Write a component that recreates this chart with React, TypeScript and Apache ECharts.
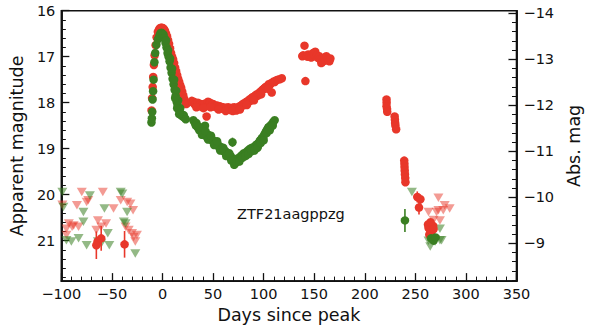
import React, { useEffect, useRef } from "react";
import * as echarts from "echarts";

// ---------- data (days since peak, apparent magnitude, optional error) ----------
const redDetections: number[][] = [
  [-65.4, 21.1, 0.3], [-64.2, 21.02], [-60.6, 20.95, 0.27], [-37.5, 21.08, 0.29],
  [-10.8, 18.17], [-10.3, 17.9], [-9.7, 17.66], [-9.2, 17.44], [-8.5, 17.18], [-7.8, 16.97],
  [-6.8, 16.75], [-5.8, 16.58], [-4.6, 16.46], [-3.5, 16.41], [-2.5, 16.38], [-1.5, 16.37],
  [-0.5, 16.37], [0.5, 16.38], [1.5, 16.4], [2.5, 16.44], [3.5, 16.5], [4.5, 16.56],
  [5.5, 16.64], [6.5, 16.72], [7.5, 16.82], [8.5, 16.92], [9.5, 17.0], [10.5, 17.06],
  [11.5, 17.14], [12.5, 17.24], [13.5, 17.32], [14.5, 17.4], [15.5, 17.48], [16.5, 17.55],
  [17.5, 17.62], [18.5, 17.68], [19.5, 17.76], [20.5, 17.84], [21.5, 17.92], [22.5, 17.98],
  [23.5, 18.03], [29, 17.96], [30, 18.0], [31, 17.98], [32, 18.04], [33, 18.02], [34, 18.06],
  [35, 18.0], [36, 18.05], [37, 18.08], [38, 18.03], [39, 18.06], [40, 18.04], [41, 18.08],
  [42, 18.02], [43.6, 18.3], [44, 18.05], [45, 17.98], [46, 18.04], [47, 18.0], [48, 18.05],
  [49, 18.07], [50, 18.03], [51, 18.08], [52, 18.06], [53, 18.1], [54, 18.06], [55, 18.09],
  [56, 18.12], [57, 18.08], [58, 18.1], [59, 18.13], [60, 18.1], [61, 18.12], [62, 18.15],
  [63, 18.11], [64, 18.14], [65, 18.1], [66, 18.13], [67, 18.16], [68, 18.12], [69, 18.11],
  [70, 18.14], [71, 18.1], [72, 18.13], [73, 18.17], [74, 18.12], [75, 18.1], [76, 18.08],
  [77, 18.12], [78, 18.06], [79, 18.04], [80, 18.02], [81, 18.05], [82, 18.0], [83, 17.98],
  [84, 18.01], [85, 17.96], [86, 17.93], [87, 17.96], [88, 17.9], [89, 17.88], [90, 17.9],
  [91, 17.86], [92, 17.84], [93, 17.82], [94, 17.85], [95, 17.8], [96, 17.78], [97, 17.76],
  [98, 17.74], [99, 17.72], [100, 17.7], [101, 17.68], [102, 17.66], [103, 17.68], [104, 17.63],
  [105, 17.6], [106, 17.62], [107, 17.58], [108, 17.78], [109, 17.56], [110, 17.54],
  [111, 17.55], [112, 17.52], [114, 17.5], [116, 17.49], [118, 17.47],
  [33.5, 18.1], [40.5, 18.12], [47.5, 18.1], [55.5, 18.15], [62.5, 18.18], [69.5, 18.18],
  [76.5, 18.15], [83.5, 18.05], [90.5, 17.95], [97.5, 17.82], [104.5, 17.7],
  [138.2, 16.99], [139, 16.97], [140.4, 16.76], [141.3, 17.53], [142, 16.98], [143, 17.0],
  [144, 16.95], [145, 16.99], [146, 16.97], [147, 17.02], [148, 16.94], [149, 16.92],
  [150, 16.96], [151, 16.89], [152, 17.0], [153, 16.97], [154, 17.03], [155, 16.99],
  [156, 17.06], [157, 17.14], [158, 17.04], [159, 17.1], [160, 17.02], [161, 17.08],
  [162, 16.99], [163, 17.05], [164, 17.06], [165, 17.1], [166, 17.04],
  [221.5, 17.93], [221.6, 18.0], [221.5, 18.08], [222, 18.14], [222.2, 18.2],
  [229.5, 18.3], [229.8, 18.37], [230, 18.44], [230.3, 18.5], [231, 18.58],
  [239, 19.26], [239.2, 19.33], [239.3, 19.4], [239.5, 19.48], [239.7, 19.56], [240, 19.64],
  [240.2, 19.73, 0.08], [251.9, 20.05, 0.12], [255, 20.1, 0.1], [253.6, 20.28, 0.15],
  [262.5, 20.65], [263, 20.72], [264.5, 20.77], [266, 20.8], [267.6, 20.68], [263.8, 20.87],
  [265, 20.6], [268, 20.75],
];

const greenDetections: number[][] = [
  [-10.9, 18.43], [-10.5, 18.34], [-10.1, 18.2], [-9.8, 17.93], [-9.3, 17.75], [-8.8, 17.5],
  [-8.0, 17.12], [-7.2, 16.92], [-6.0, 16.74], [-4.5, 16.62], [-3, 16.54], [-2, 16.49],
  [-1, 16.48], [0, 16.5], [1, 16.52], [2, 16.6], [3, 16.7], [4, 16.8], [5, 16.92], [6, 17.0],
  [7, 17.1], [8, 17.24], [9, 17.35], [10, 17.48], [11, 17.6], [12, 17.72], [13, 17.85],
  [14, 17.98], [15, 18.06], [16, 18.14], [17, 18.2], [18, 18.26], [19, 18.28], [20, 18.3],
  [21, 18.27], [22, 18.33], [23, 18.36], [3.5, 16.64], [5.5, 16.86], [7.5, 17.04],
  [9.5, 17.26], [11.5, 17.5], [13.5, 17.74], [15.5, 17.95], [17.5, 18.12], [12.5, 17.9],
  [14.5, 18.12], [16.5, 18.25],
  [30.5, 18.38], [31.5, 18.42], [32.5, 18.46], [33.5, 18.44], [34.5, 18.52], [35.5, 18.56],
  [36.5, 18.6], [37.5, 18.55], [38.5, 18.62], [39.5, 18.66], [40.5, 18.64], [41.5, 18.7],
  [42, 18.5], [42.5, 18.72], [43.5, 18.68], [44.5, 18.74], [45.5, 18.7], [46.5, 18.76],
  [47.5, 18.8], [48.5, 18.78], [49.5, 18.82], [50.5, 18.86], [51.5, 18.84], [52.5, 18.88],
  [53.5, 18.92], [54.5, 18.9], [55.5, 18.95], [56.5, 18.98], [57.5, 18.96], [58.5, 19.0],
  [59.5, 19.03], [60.5, 19.06], [61.5, 19.04], [62.5, 19.1], [63.5, 19.08], [64.5, 19.14],
  [65.5, 19.12], [66.5, 19.18], [67.5, 19.16], [68.5, 19.2], [69.2, 18.86, 0.1], [70, 19.26],
  [70.9, 19.35, 0.08], [71.5, 19.24], [72.4, 19.3], [73.5, 19.22], [74.5, 19.26, 0.07],
  [75.5, 19.2], [76.5, 19.22], [77.5, 19.16], [78.5, 19.18], [79.5, 19.12], [80.5, 19.1],
  [81.5, 19.14, 0.07], [82.5, 19.08], [83.5, 19.1], [84.5, 19.04], [85.5, 19.06], [86.5, 19.0],
  [87.5, 19.04], [88.5, 18.98, 0.07], [89.5, 19.0], [90.5, 18.96], [91.5, 18.98], [92.5, 18.92],
  [93.5, 18.9], [94.5, 18.94], [95.5, 18.86], [96.5, 18.82], [97.5, 18.8], [98.5, 18.76],
  [99.5, 18.78], [100.5, 18.7], [101.5, 18.66], [102.5, 18.62], [103.5, 18.58], [104.5, 18.54],
  [105.5, 18.52], [106.5, 18.56], [107.5, 18.48], [108.5, 18.46], [109.5, 18.42], [110.9, 18.38],
  [33, 18.5], [36, 18.52], [39, 18.7], [42.5, 18.62], [45, 18.8], [48, 18.72], [51, 18.92],
  [54, 18.84], [57, 19.04], [60, 18.98], [63, 19.16], [66, 19.1], [68, 19.26], [73, 19.3],
  [76, 19.28], [79, 19.2], [82, 19.16], [85, 19.12], [88, 19.06], [91, 19.04], [94, 18.98],
  [97, 18.88], [100, 18.82], [103, 18.66], [106, 18.6], [109, 18.5],
  [239.7, 20.56, 0.25], [265.5, 20.95], [268, 21.0], [270, 20.93],
];

const redUpperLimits: number[][] = [
  [-99, 20.22], [-95, 20.74], [-95, 20.88], [-92.6, 20.63], [-89.4, 20.7], [-87.8, 20.67],
  [-84.6, 20.23], [-83, 20.7], [-79.8, 19.94], [-75, 20.16], [-73.4, 20.12], [-65.4, 20.77],
  [-63.8, 20.56], [-60.6, 20.7], [-59, 19.94], [-55.8, 20.63], [-48.4, 20.3], [-41.3, 20.12],
  [-36.5, 20.7], [-34.9, 20.16], [-33.4, 20.77], [-31.7, 20.2], [-30.1, 20.84], [-29.1, 20.34],
  [-28.5, 20.92], [-26.9, 21.02], [-25.3, 20.88],
  [263, 20.38], [268, 20.55], [271, 20.38], [272.8, 20.07], [272.8, 20.34], [274.3, 20.56],
  [277.6, 20.34], [279, 20.23], [283.9, 20.3],
];

const greenUpperLimits: number[][] = [
  [-99, 19.94], [-98, 20.27], [-95, 20.99], [-90.1, 21.02], [-83, 20.95], [-78.2, 20.38],
  [-78.2, 20.59], [-75, 21.1], [-71.8, 20.02], [-63.8, 21.02], [-60.6, 21.06], [-57.4, 20.3],
  [-54.1, 20.84], [-52.6, 21.1], [-41.3, 19.94], [-39.7, 19.98], [-38.2, 20.59], [-36.5, 20.63],
  [-35, 20.38], [-26.9, 21.28],
  [246.6, 19.94], [263, 21.0], [264.7, 21.13], [269.5, 21.02], [274.3, 20.99], [274.3, 20.74],
  [275.9, 20.99],
];

const xTicks = { min: -100, max: 350, interval: 50 };
const appMagRange = { min: 16, max: 21.88 };
const distanceModulus = 30.056;
const annotation = "ZTF21aagppzg";

const RED = "#e8372a";
const GREEN = "#3a7f22";
const INK = "#111111";
const FONT = "DejaVu Sans";

const minus = (v: number) => (v < 0 ? "\u2212" + Math.abs(v) : String(v));

function errSeries(data: number[][], color: string) {
  return {
    type: "custom",
    xAxisIndex: 0,
    yAxisIndex: 0,
    data: data.filter((d) => d.length > 2).map((d) => [d[0], d[1], d[2]]),
    renderItem: (_p: any, api: any) => {
      const x = api.value(0);
      const y = api.value(1);
      const e = api.value(2);
      const a = api.coord([x, y - e]);
      const b = api.coord([x, y + e]);
      return {
        type: "line",
        shape: { x1: a[0], y1: a[1], x2: b[0], y2: b[1] },
        style: { stroke: color, lineWidth: 1.6 },
      };
    },
    z: 3,
  };
}

export default function App() {
  const ref = useRef<HTMLDivElement>(null);
  useEffect(() => {
    if (!ref.current) return;
    const chart = echarts.init(ref.current, null, { renderer: "svg" });
    const absMin = appMagRange.min - distanceModulus;
    const absMax = appMagRange.max - distanceModulus;
    const axisLine = { show: true, onZero: false, lineStyle: { color: INK, width: 1.6 } };
    const labelStyle = { color: INK, fontFamily: FONT, fontSize: 14.5 };
    const nameStyle = { color: INK, fontFamily: FONT, fontSize: 17.5 };
    chart.setOption({
      animation: false,
      grid: {
        left: 59, right: 64.3, top: 10.7, bottom: 45.7,
        show: true, borderColor: INK, borderWidth: 1.6, backgroundColor: "transparent",
      },
      xAxis: {
        type: "value", min: xTicks.min, max: xTicks.max, interval: xTicks.interval,
        axisLine,
        axisTick: { inside: true, length: 8, lineStyle: { color: INK, width: 1.3 } },
        minorTick: { show: true, splitNumber: 5, length: 4.5, lineStyle: { color: INK, width: 1 } },
        splitLine: { show: false },
        axisLabel: { ...labelStyle, margin: 5, formatter: minus },
        name: "Days since peak", nameLocation: "middle", nameGap: 24, nameTextStyle: nameStyle,
      },
      yAxis: [
        {
          type: "value", position: "left", inverse: true,
          min: appMagRange.min, max: appMagRange.max, interval: 1,
          axisLine,
          axisTick: { inside: true, length: 8, lineStyle: { color: INK, width: 1.3 } },
          splitLine: { show: false },
          axisLabel: { ...labelStyle, margin: 6, showMaxLabel: false },
          name: "Apparent magnitude", nameLocation: "middle", nameGap: 30, nameTextStyle: nameStyle,
        },
        {
          type: "value", position: "left", inverse: true,
          min: appMagRange.min, max: appMagRange.max, interval: 0.2,
          axisLine,
          axisTick: { inside: true, length: 4.5, lineStyle: { color: INK, width: 1 } },
          splitLine: { show: false },
          axisLabel: { show: false },
        },
        {
          type: "value", position: "right", inverse: true,
          min: absMin, max: absMax, splitNumber: 6,
          axisLine,
          axisTick: { inside: true, length: 8, lineStyle: { color: INK, width: 1.3 } },
          splitLine: { show: false },
          axisLabel: { ...labelStyle, margin: 7, showMinLabel: false, showMaxLabel: false, formatter: minus },
          name: "Abs. mag", nameLocation: "middle", nameGap: 42, nameTextStyle: nameStyle,
        },
        {
          type: "value", position: "right", inverse: true,
          min: absMin, max: absMax, splitNumber: 30,
          axisLine,
          axisTick: { inside: true, length: 4.5, lineStyle: { color: INK, width: 1 } },
          splitLine: { show: false },
          axisLabel: { show: false },
        },
      ],
      graphic: [
        {
          type: "text", left: 237, top: 206,
          style: { text: annotation, fill: INK, font: `14.5px '${FONT}'` },
        },
      ],
      series: [
        {
          type: "scatter", data: redUpperLimits, symbol: "triangle", symbolRotate: 180,
          symbolSize: [10, 8.5], itemStyle: { color: RED, opacity: 0.5 }, z: 2,
        },
        {
          type: "scatter", data: greenUpperLimits, symbol: "triangle", symbolRotate: 180,
          symbolSize: [10, 8.5], itemStyle: { color: GREEN, opacity: 0.55 }, z: 2,
        },
        errSeries(redDetections, RED),
        {
          type: "scatter", data: redDetections.map((d) => [d[0], d[1]]), symbol: "circle",
          symbolSize: 8.5, itemStyle: { color: RED, opacity: 1 }, z: 4,
        },
        errSeries(greenDetections, GREEN),
        {
          type: "scatter", data: greenDetections.map((d) => [d[0], d[1]]), symbol: "circle",
          symbolSize: 8.5, itemStyle: { color: GREEN, opacity: 1 }, z: 5,
        },
      ],
    });
    return () => chart.dispose();
  }, []);
  return (
    <div
      ref={ref}
      style={{ position: "fixed", left: 0, top: 0, width: 591, height: 329, background: "#fff" }}
    />
  );
}
